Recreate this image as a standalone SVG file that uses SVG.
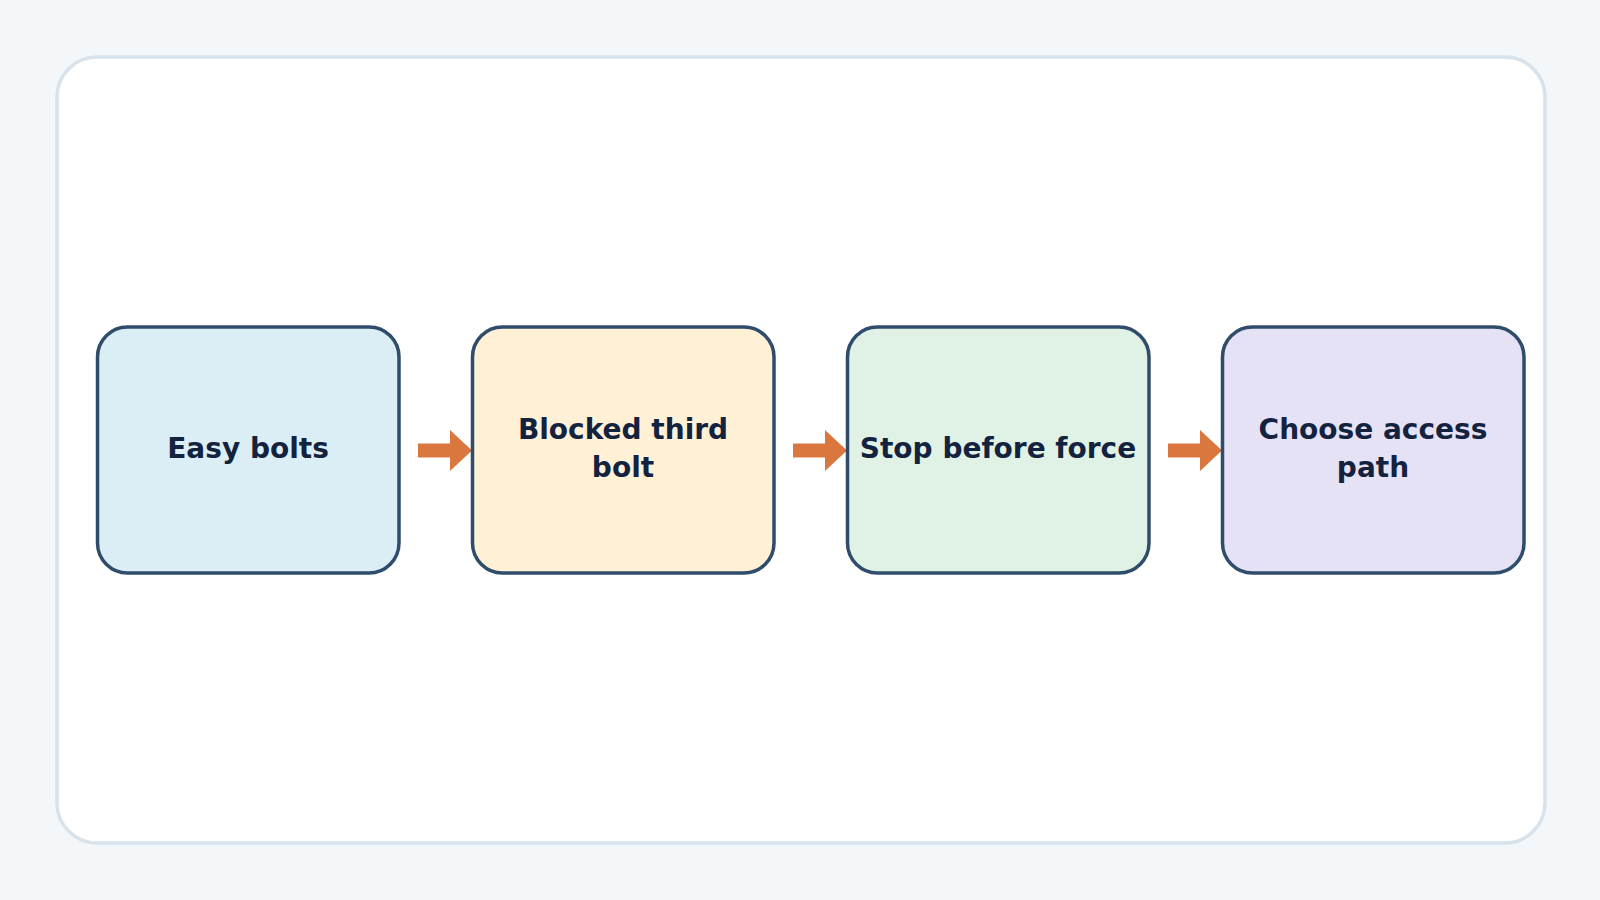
<svg xmlns="http://www.w3.org/2000/svg" width="1600" height="900" viewBox="0 0 1600 900">
<defs>
<style>
.node{stroke:#2f4d6b;stroke-width:3.5}
.lbl{font-family:"DejaVu Sans","Liberation Sans",sans-serif;font-weight:bold;font-size:28px;fill:#13233f;text-anchor:middle}
.conn{stroke:#d9773f;stroke-width:14;fill:none}
</style>
<marker id="ah" markerUnits="userSpaceOnUse" markerWidth="24" markerHeight="44" refX="0" refY="20.5" orient="auto">
<polygon points="0,0 22,20.5 0,41" fill="#d9773f"/>
</marker>
</defs>
<rect width="1600" height="900" fill="#f3f7fa"/>
<rect x="57" y="57" width="1488" height="786" rx="40" fill="#ffffff" stroke="#d8e2eb" stroke-width="3.5"/>
<g id="connectors">
<line class="conn" x1="418" y1="450.5" x2="450" y2="450.5" marker-end="url(#ah)"/>
<line class="conn" x1="793" y1="450.5" x2="825" y2="450.5" marker-end="url(#ah)"/>
<line class="conn" x1="1168" y1="450.5" x2="1200" y2="450.5" marker-end="url(#ah)"/>
</g>
<g id="node1">
<rect class="node" x="97.5" y="327" width="301.5" height="246" rx="30" fill="#dceef5"/>
<text class="lbl" x="248" y="458">Easy bolts</text>
</g>
<g id="node2">
<rect class="node" x="472.5" y="327" width="301.5" height="246" rx="30" fill="#fff0d6"/>
<text class="lbl" x="623" y="438.5">Blocked third</text>
<text class="lbl" x="623" y="476.5">bolt</text>
</g>
<g id="node3">
<rect class="node" x="847.5" y="327" width="301.5" height="246" rx="30" fill="#e0f1e6"/>
<text class="lbl" x="998" y="458">Stop before force</text>
</g>
<g id="node4">
<rect class="node" x="1222.5" y="327" width="301.5" height="246" rx="30" fill="#e6e2f6"/>
<text class="lbl" x="1373" y="438.5">Choose access</text>
<text class="lbl" x="1373" y="476.5">path</text>
</g>
</svg>
